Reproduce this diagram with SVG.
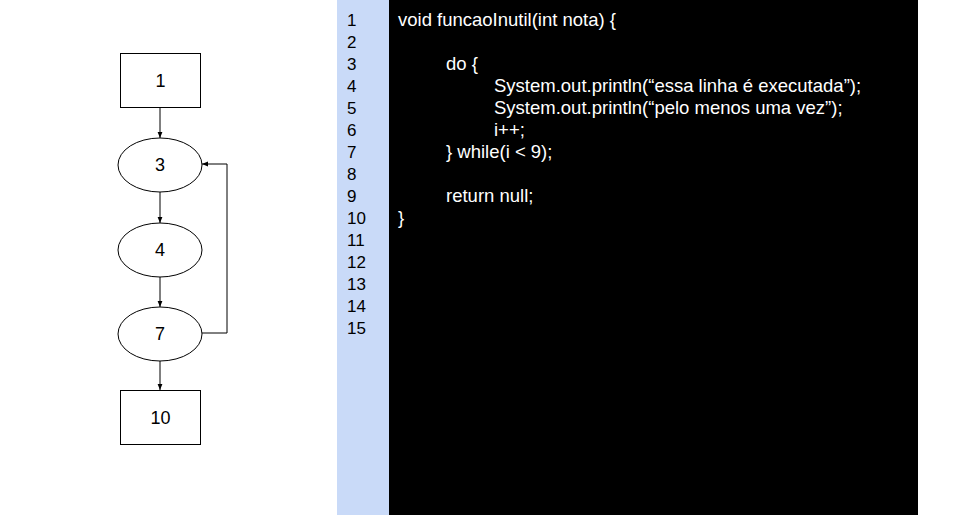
<svg xmlns="http://www.w3.org/2000/svg" width="960" height="528" viewBox="0 0 960 528">
<defs>
<style>
.n{fill:#fff;stroke:#000;stroke-width:1}
.lbl{font-family:"Liberation Sans",Arial,sans-serif;font-size:18px;fill:#000;text-anchor:middle}
.ln{font-family:"Liberation Sans",Arial,sans-serif;font-size:17px;fill:#000}
.code{font-family:"Liberation Sans",Arial,sans-serif;font-size:18.5px;fill:#fff}
.e{fill:none;stroke:#000;stroke-width:1;marker-end:url(#a)}
</style>
<marker id="a" viewBox="0 0 10 10" refX="10" refY="5" markerWidth="6" markerHeight="6" orient="auto" markerUnits="userSpaceOnUse">
<path d="M0,1 L10,5 L0,9 z" fill="#000"/>
</marker>
</defs>
<rect width="960" height="528" fill="#fff"/>
<rect x="337" y="0" width="52" height="515" fill="#c9daf8"/>
<rect x="389" y="0" width="529" height="515" fill="#000"/>
<g id="linenums" class="ln">
<text x="347" y="26">1</text>
<text x="347" y="48">2</text>
<text x="347" y="70">3</text>
<text x="347" y="92">4</text>
<text x="347" y="114">5</text>
<text x="347" y="136">6</text>
<text x="347" y="158">7</text>
<text x="347" y="180">8</text>
<text x="347" y="202">9</text>
<text x="347" y="224">10</text>
<text x="347" y="246">11</text>
<text x="347" y="268">12</text>
<text x="347" y="290">13</text>
<text x="347" y="312">14</text>
<text x="347" y="334">15</text>
</g>
<g id="code" class="code">
<text x="398" y="26">void funcaoInutil(int nota) {</text>
<text x="446" y="70">do {</text>
<text x="494" y="92">System.out.println(“essa linha é executada”);</text>
<text x="494" y="114">System.out.println(“pelo menos uma vez”);</text>
<text x="494" y="136">i++;</text>
<text x="446" y="158">} while(i &lt; 9);</text>
<text x="446" y="202">return null;</text>
<text x="398" y="224">}</text>
</g>
<g id="connectors">
<path class="e" d="M160,107 V138"/>
<path class="e" d="M160,192 V223"/>
<path class="e" d="M160,277 V307"/>
<path class="e" d="M160,361 V390"/>
<path class="e" d="M202,333 H227 V164 H202"/>
</g>
<g id="n1"><rect class="n" x="120.5" y="53.5" width="80" height="54"/><text class="lbl" x="160.5" y="87">1</text></g>
<g id="n3"><ellipse class="n" cx="160" cy="165" rx="42" ry="27"/><text class="lbl" x="160" y="171">3</text></g>
<g id="n4"><ellipse class="n" cx="160" cy="250" rx="42" ry="27"/><text class="lbl" x="160" y="256">4</text></g>
<g id="n7"><ellipse class="n" cx="160" cy="334" rx="42" ry="27"/><text class="lbl" x="160" y="340">7</text></g>
<g id="n10"><rect class="n" x="120.5" y="390.5" width="80" height="54"/><text class="lbl" x="160.5" y="424">10</text></g>
</svg>
